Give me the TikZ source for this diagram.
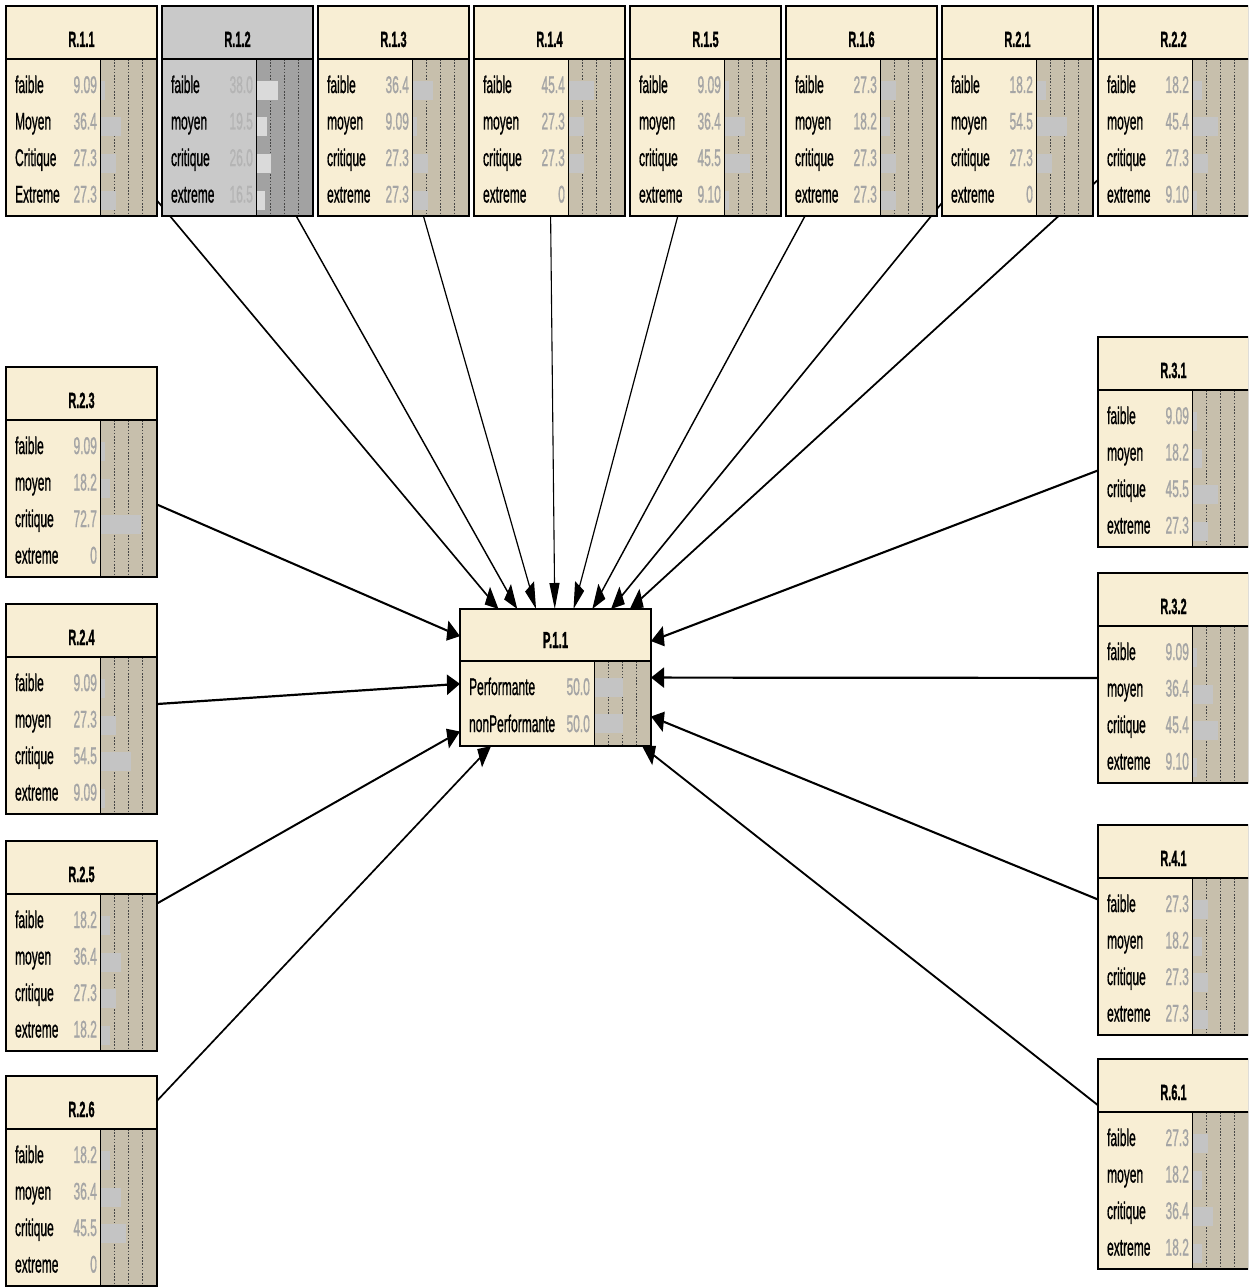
\documentclass[tikz,border=0pt]{standalone}
\usepackage{fontspec}
\setmainfont{Liberation Sans}[UprightFeatures={FakeBold=1.4},BoldFeatures={FakeBold=1.6}]
\usetikzlibrary{arrows.meta}
\definecolor{nfill}{RGB}{248,238,212}
\definecolor{nbg}{RGB}{199,191,172}
\definecolor{nbar}{RGB}{196,196,196}
\definecolor{nval}{RGB}{165,165,165}
\definecolor{gfill}{RGB}{201,201,201}
\definecolor{gbg}{RGB}{162,162,162}
\definecolor{gbar}{RGB}{218,218,218}
\definecolor{gval}{RGB}{180,180,180}
\definecolor{dotc}{RGB}{70,70,70}
\tikzset{
  place/.style={draw=none,minimum width=302pt,minimum height=210pt,inner sep=0pt,outer sep=0pt},
  arr/.style={-{Triangle[length=26pt,width=20pt]},line width=2.2pt},
  lab/.style={anchor=base west,inner sep=0pt,font=\fontsize{24}{24}\selectfont},
  val/.style={anchor=base east,inner sep=0pt,font=\fontsize{24}{24}\selectfont},
  ttl/.style={anchor=base,inner sep=0pt,font=\fontsize{22}{22}\selectfont\bfseries},
  dotl/.style={dotc,line width=1.6pt,dash pattern=on 1.6pt off 1.6pt},
  border/.style={line width=2.6pt}
}
% #1 x-left, #2 y-top, #3 title, #4 list label/value, #5 colour set (n or g)
\newcommand\rbox[5]{%
  \fill[#5fill] (#1,#2) rectangle ++(151,210);
  \fill[#5bg] (#1+94,#2+53) rectangle (#1+151,#2+210);
  \foreach \k in {1,2,3}{\draw[dotl] (#1+94+14.25*\k,#2+53) -- ++(0,157);}
  \foreach \lab/\val [count=\i] in {#4}{%
    \fill[#5bar] (#1+94,#2+75+36.5*\i-36.5) rectangle ++(\val*0.57,19);
    \node[lab] at (#1+9,#2+87+36.5*\i-36.5) {\lab};
    \node[val,text=#5val] at (#1+91,#2+87+36.5*\i-36.5) {\val};
  }
  \draw[line width=2pt] (#1+94,#2+53) -- (#1+94,#2+210);
  \draw[border] (#1,#2+53) -- (#1+151,#2+53);
  \draw[border] (#1,#2) rectangle ++(151,210);
  \node[ttl] at (#1+75.5,#2+41) {#3};
}
\begin{document}
\begin{tikzpicture}[x=1pt,y=-1pt]
\useasboundingbox (0,0) rectangle (1248,1287);
\clip (0,0) rectangle (1248,1287);
\fill[white] (0,0) rectangle (1248,1287);
\begin{scope}[transform canvas={xscale=0.5},x=2pt,y=-1pt]
% placement nodes
\node[place] (r11) at (81.5,111) {};
\node[place] (r12) at (237.5,111) {};
\node[place] (r13) at (393.5,111) {};
\node[place] (r14) at (549.5,111) {};
\node[place] (r15) at (705.5,111) {};
\node[place] (r16) at (861.5,111) {};
\node[place] (r21) at (1017.5,111) {};
\node[place] (r22) at (1173.5,111) {};
\node[place] (r23) at (81.5,472) {};
\node[place] (r24) at (81.5,709) {};
\node[place] (r25) at (81.5,946) {};
\node[place] (r26) at (81.5,1181) {};
\node[place] (r31) at (1173.5,442) {};
\node[place] (r32) at (1173.5,678) {};
\node[place] (r41) at (1173.5,930) {};
\node[place] (r61) at (1173.5,1164) {};
\node[draw=none,minimum width=382pt,minimum height=137pt,inner sep=0pt,outer sep=0pt] (p11) at (555.5,677.5) {};
% connectors
\foreach \n in {r11,r12,r13,r14,r15,r16,r21,r22,r23,r24,r25,r26,r31,r32,r41,r61}{\draw[arr] (\n) -- (p11);}
% boxes
\rbox{6}{6}{R.1.1}{faible/9.09,Moyen/36.4,Critique/27.3,Extreme/27.3}{n}
\rbox{162}{6}{R.1.2}{faible/38.0,moyen/19.5,critique/26.0,extreme/16.5}{g}
\rbox{318}{6}{R.1.3}{faible/36.4,moyen/9.09,critique/27.3,extreme/27.3}{n}
\rbox{474}{6}{R.1.4}{faible/45.4,moyen/27.3,critique/27.3,extreme/0}{n}
\rbox{630}{6}{R.1.5}{faible/9.09,moyen/36.4,critique/45.5,extreme/9.10}{n}
\rbox{786}{6}{R.1.6}{faible/27.3,moyen/18.2,critique/27.3,extreme/27.3}{n}
\rbox{942}{6}{R.2.1}{faible/18.2,moyen/54.5,critique/27.3,extreme/0}{n}
\rbox{1098}{6}{R.2.2}{faible/18.2,moyen/45.4,critique/27.3,extreme/9.10}{n}
\rbox{6}{367}{R.2.3}{faible/9.09,moyen/18.2,critique/72.7,extreme/0}{n}
\rbox{6}{604}{R.2.4}{faible/9.09,moyen/27.3,critique/54.5,extreme/9.09}{n}
\rbox{6}{841}{R.2.5}{faible/18.2,moyen/36.4,critique/27.3,extreme/18.2}{n}
\rbox{6}{1076}{R.2.6}{faible/18.2,moyen/36.4,critique/45.5,extreme/0}{n}
\rbox{1098}{337}{R.3.1}{faible/9.09,moyen/18.2,critique/45.5,extreme/27.3}{n}
\rbox{1098}{573}{R.3.2}{faible/9.09,moyen/36.4,critique/45.4,extreme/9.10}{n}
\rbox{1098}{825}{R.4.1}{faible/27.3,moyen/18.2,critique/27.3,extreme/27.3}{n}
\rbox{1098}{1059}{R.6.1}{faible/27.3,moyen/18.2,critique/36.4,extreme/18.2}{n}
% P.1.1
\fill[nfill] (460,609) rectangle (651,746);
\fill[nbg] (594,661) rectangle (651,746);
\foreach \k in {1,2,3}{\draw[dotl] (594+14.25*\k,661) -- (594+14.25*\k,746);}
\fill[nbar] (594,678) rectangle ++(28.5,19);
\fill[nbar] (594,714) rectangle ++(28.5,19);
\draw[line width=2pt] (594,661) -- (594,746);
\draw[border] (460,661) -- (651,661);
\draw[border] (460,609) rectangle (651,746);
\node[ttl,font=\fontsize{23}{23}\selectfont\bfseries] at (555.5,648) {P.1.1};
\node[lab] at (469,695) {Performante};
\node[val,text=nval] at (590,695) {50.0};
\node[lab] at (469,732) {nonPerformante};
\node[val,text=nval] at (590,732) {50.0};
\end{scope}
\end{tikzpicture}
\end{document}
